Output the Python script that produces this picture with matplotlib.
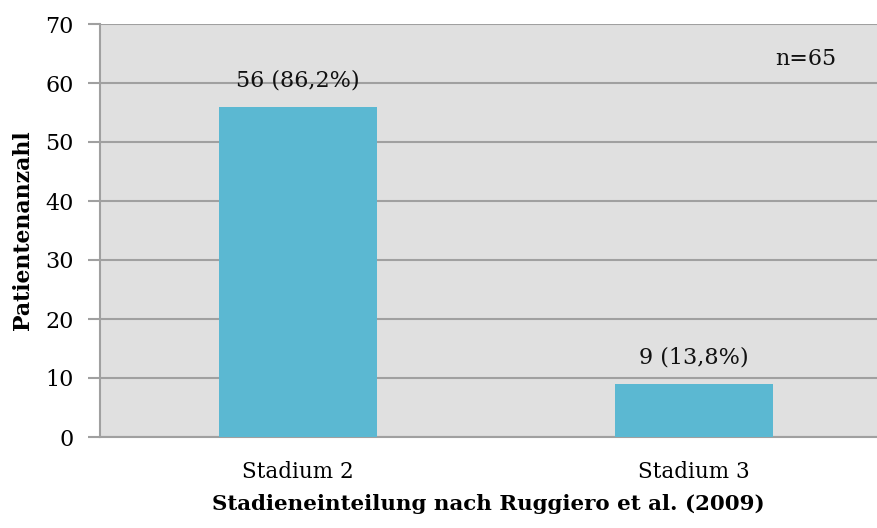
import matplotlib
matplotlib.use("Agg")
import matplotlib.pyplot as plt

categories = ["Stadium 2", "Stadium 3"]
counts = [56, 9]
labels = ["56 (86,2%)", "9 (13,8%)"]
y_ticks = [0, 10, 20, 30, 40, 50, 60, 70]

plt.rcParams['font.family'] = ['DejaVu Serif']

fig = plt.figure(figsize=(8.77, 5.28), dpi=100)
ax = fig.add_axes([100/877, 91/528, 777/877, 413/528])
ax.set_facecolor('#e0e0e0')

x = list(range(len(categories)))
bars = ax.bar(x, counts, width=0.4, color='#5bb8d2', zorder=3)

for xi, v, lab in zip(x, counts, labels):
    ax.annotate(lab, (xi, v), xytext=(0, 19), textcoords='offset points',
                ha='center', va='center', fontsize=16, color='#111111')

ax.text(0.908, 0.915, 'n=65', transform=ax.transAxes, ha='center', va='center',
        fontsize=16, color='#111111')

ax.set_xlim(-0.5, -0.5 + 777/396)
ax.set_ylim(0, 70)
ax.set_yticks(y_ticks)
ax.set_xticks(x)
ax.set_xticklabels(categories, fontsize=15.5)
ax.tick_params(axis='x', length=0, pad=17)
ax.tick_params(axis='y', labelsize=16, length=9, width=1.5, color='#a0a0a0', pad=10)
ax.yaxis.grid(True, color='#a0a0a0', linewidth=1.5, zorder=1)

for s in ['top', 'right']:
    ax.spines[s].set_visible(False)
for s in ['left', 'bottom']:
    ax.spines[s].set_color('#a0a0a0')
    ax.spines[s].set_linewidth(1.5)

ax.set_ylabel('Patientenanzahl', fontsize=15.8, fontweight='bold', labelpad=8)
ax.set_xlabel('Stadieneinteilung nach Ruggiero et al. (2009)', fontsize=15.4,
              fontweight='bold', labelpad=8)

fig.savefig('out.png', dpi=100)
